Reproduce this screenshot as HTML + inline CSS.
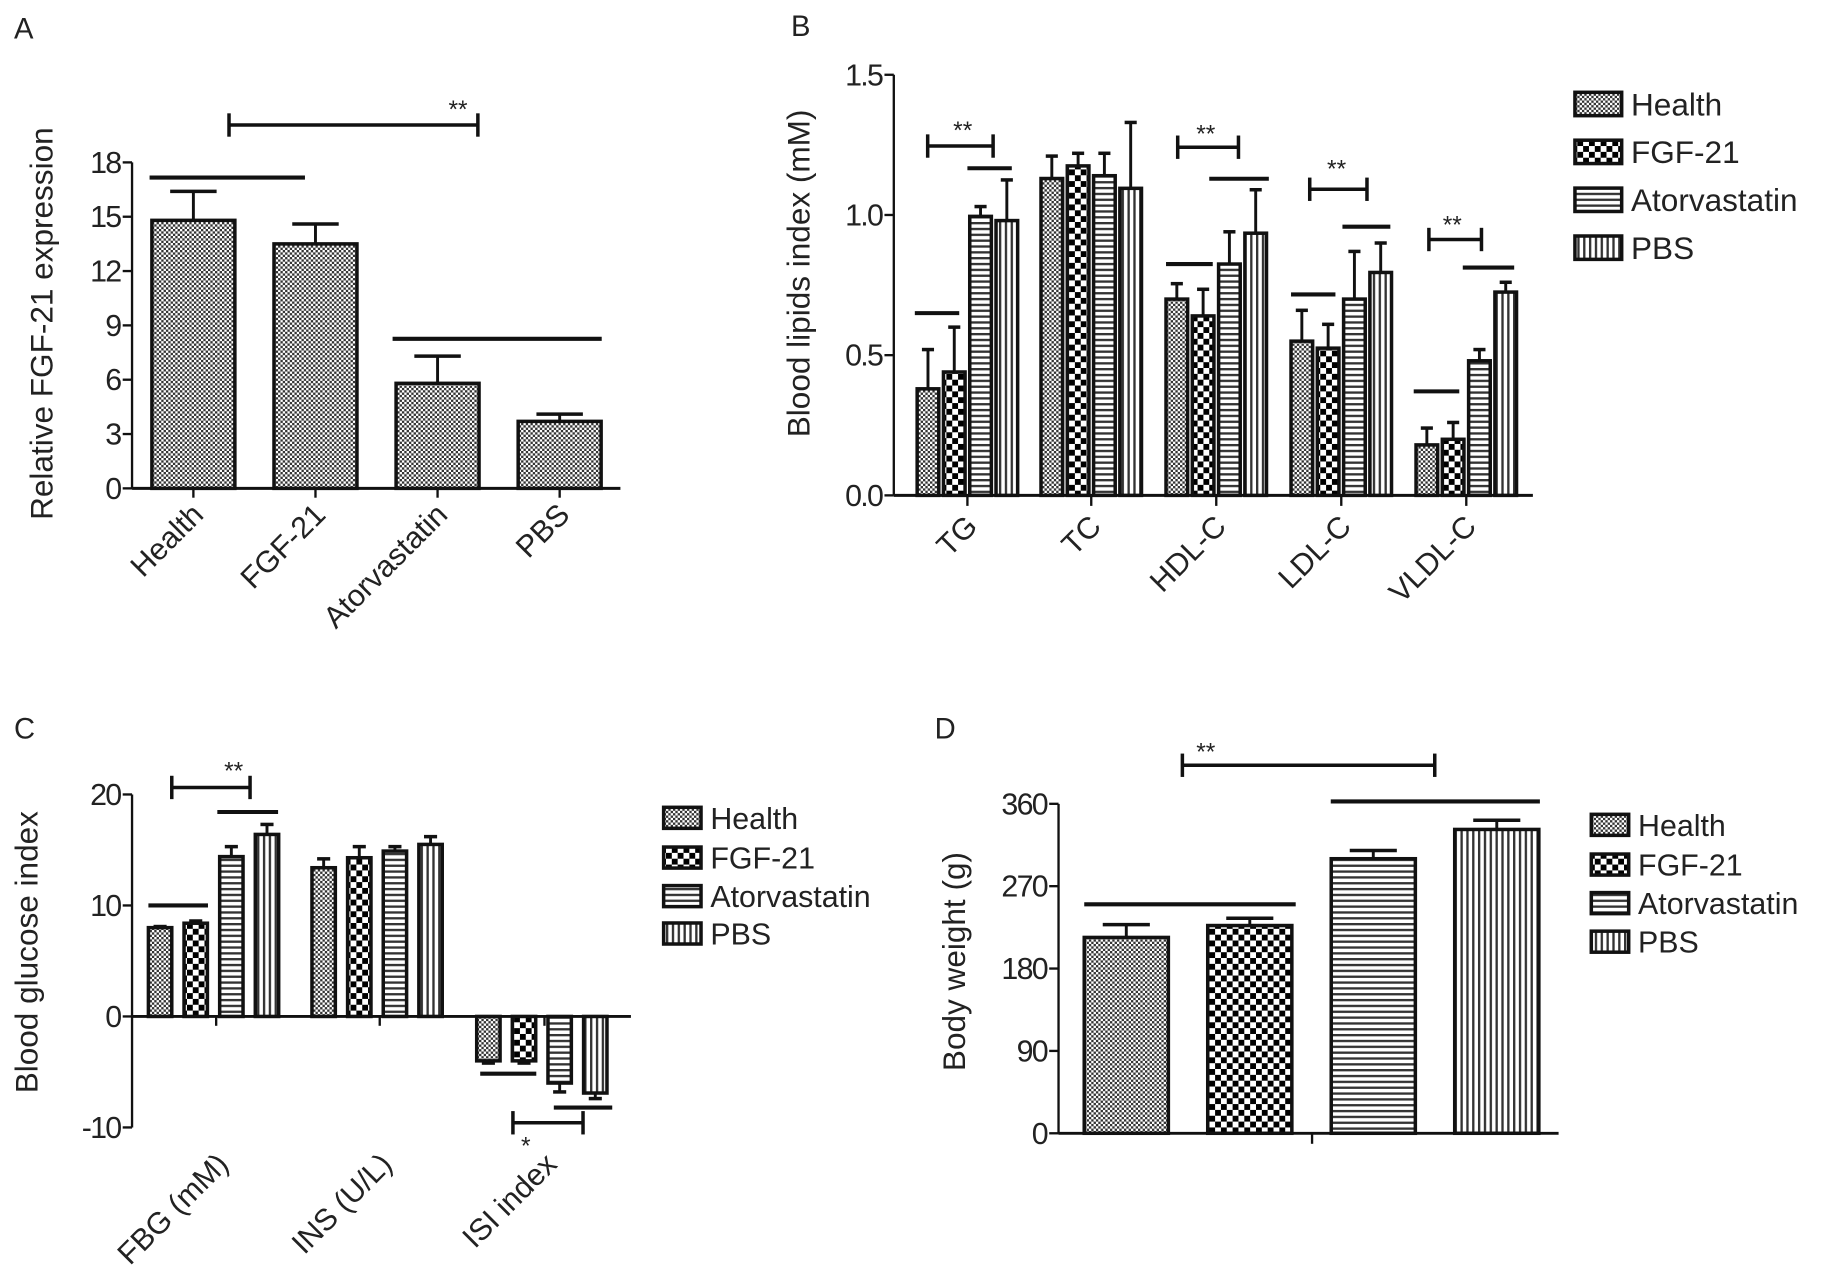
<!DOCTYPE html>
<html><head><meta charset="utf-8">
<style>
html,body{margin:0;padding:0;background:#fff;}
svg{display:block;font-family:"Liberation Sans",Arial,sans-serif;}
</style></head>
<body>
<svg id="fig" width="1832" height="1284" viewBox="0 0 1568 1099" xmlns="http://www.w3.org/2000/svg">
<defs>
<pattern id="pHealth" width="4" height="4" patternUnits="userSpaceOnUse"><rect width="4" height="4" fill="#fff"/><rect width="2" height="2" fill="#333"/><rect x="2" y="2" width="2" height="2" fill="#333"/></pattern>
<pattern id="pFGF" width="10" height="10" patternUnits="userSpaceOnUse"><rect width="10" height="10" fill="#fff"/><rect width="5" height="5" fill="#000"/><rect x="5" y="5" width="5" height="5" fill="#000"/></pattern>
<pattern id="pAtor" width="6" height="5" patternUnits="userSpaceOnUse"><rect width="6" height="5" fill="#fff"/><rect width="6" height="2" fill="#333"/></pattern>
<pattern id="pPBS" width="5" height="6" patternUnits="userSpaceOnUse"><rect width="5" height="6" fill="#fff"/><rect width="2" height="6" fill="#333"/></pattern>
</defs>
<g id="root"></g>
</svg>
<script>
// ---- Panel A data ----
const aCats = ["Health","FGF-21","Atorvastatin","PBS"];
const aVals = [14.8, 13.5, 5.8, 3.7];
const aErr = [16.4, 14.6, 7.3, 4.1];
const aTicks = [0,3,6,9,12,15,18];
// ---- Panel B data ----
const bCats = ["TG","TC","HDL-C","LDL-C","VLDL-C"];
const bHealth = [0.38, 1.13, 0.70, 0.55, 0.18];
const bHealthErr = [0.52, 1.21, 0.755, 0.66, 0.24];
const bFGF = [0.44, 1.175, 0.64, 0.525, 0.20];
const bFGFErr = [0.60, 1.22, 0.735, 0.61, 0.26];
const bAtor = [0.995, 1.14, 0.825, 0.70, 0.48];
const bAtorErr = [1.03, 1.22, 0.94, 0.87, 0.52];
const bPBS = [0.98, 1.095, 0.935, 0.795, 0.725];
const bPBSErr = [1.125, 1.33, 1.09, 0.90, 0.76];
const bTicks = ["0.0","0.5","1.0","1.5"];
// ---- Panel C data ----
const cCats = ["FBG (mM)","INS (U/L)","ISI index"];
const cHealth = [8.0, 13.4, -4.0];
const cHealthErr = [8.1, 14.2, -4.2];
const cFGF = [8.4, 14.3, -4.0];
const cFGFErr = [8.6, 15.3, -4.2];
const cAtor = [14.4, 14.9, -6.0];
const cAtorErr = [15.3, 15.3, -6.8];
const cPBS = [16.4, 15.5, -6.9];
const cPBSErr = [17.3, 16.2, -7.4];
const cTicks = [-10,0,10,20];
// ---- Panel D data ----
const dCats = ["Health","FGF-21","Atorvastatin","PBS"];
const dVals = [214, 227, 300, 332];
const dErr = [228, 235, 309, 342];
const dTicks = [0,90,180,270,360];

const legendNames = ["Health","FGF-21","Atorvastatin","PBS"];
const pats = ["url(#pHealth)","url(#pFGF)","url(#pAtor)","url(#pPBS)"];
const NS="http://www.w3.org/2000/svg";
const root=document.getElementById('root');
function mk(tag,attrs,parent,name,inter){
  const e=document.createElementNS(NS,tag);
  for(const k in attrs) e.setAttribute(k,attrs[k]);
  
  
  (parent||root).appendChild(e); return e;
}
function line(x1,y1,x2,y2,w,name,p){return mk('line',{x1,y1,x2,y2,stroke:'#111','stroke-width':w||2.5},p,name);}
function text(x,y,s,size,anchor,name,p,extra){
  const t=mk('text',Object.assign({x,y,'font-size':size,'text-anchor':anchor||'start',fill:'#222'},extra||{}),p,name);
  t.textContent=s; return t;
}
function bar(x,w,y0,y1,fill,errY,name,p){
  const top=Math.min(y0,y1), h=Math.abs(y1-y0);
  const g=mk('g',{},p,name);
  const cx=x+w/2;
  line(cx,y1,cx,errY,2.5,name+'-error-stem',g);
  line(cx-w*0.28,errY,cx+w*0.28,errY,3,name+'-error-cap',g);
  mk('rect',{x,y:top,width:w,height:h,fill,stroke:'#111','stroke-width':3},g,name+'-rect');
}
function sigLine(x1,x2,y,name){line(x1,y,x2,y,3.5,name);}
function bracket(x1,x2,y,name,lab,lx,ly,size){
  const g=mk('g',{},root,name);
  line(x1,y,x2,y,3,name+'-bar',g);
  line(x1,y-10,x1,y+10,3,name+'-left',g);
  line(x2,y-10,x2,y+10,3,name+'-right',g);
  text(lx,ly,lab,size||21,'middle',name+'-label',g);
}
function yAxis(x,yTop,yBot,ticks,scale,name,fs){
  const g=mk('g',{},root,name);
  line(x,yTop,x,yBot,2,name+'-line',g);
  ticks.forEach(t=>{const v=parseFloat(t);const y=scale(v);
    line(x-8,y,x,y,2,name+'-tick',g);
    text(x-10,y+9,String(t),fs||26,'end',name+'-tick-label',g,{'letter-spacing':'-1.5'});});
}
function rotLabel(x,y,s,name,fs){
  text(x,y,s,fs||26,'end',name,root,{transform:`rotate(-45 ${x} ${y})`});
}
function yTitle(x,y,s,name,fs){text(x,y,s,fs||26,'middle',name,root,{transform:`rotate(-90 ${x} ${y})`});}
function legend(x,ys,fs,name,sw,sh){
  const g=mk('g',{},root,name);
  legendNames.forEach((n,i)=>{
    const e=mk('g',{},g,'legend-entry-'+n.toLowerCase());
    mk('rect',{x,y:ys[i]-sh/2,width:sw,height:sh,fill:pats[i],stroke:'#111','stroke-width':3},e,'legend-swatch');
    text(x+sw+8,ys[i]+fs*0.36,n,fs,'start','legend-label',e);
  });
}

// ================= Panel A =================
text(12,33,"A",25,'start','panel-a-label');
{
  const y0=418, yTopV=139, x0=113;
  const ys=v=>y0-(v/18)*(y0-yTopV);
  const xs=i=>130+i*104.5, bw=71;
  yAxis(x0,yTopV,y0,aTicks,ys,'panel-a-y-axis');
  line(x0,y0,531,y0,2.5,'panel-a-x-axis');
  yTitle(45,277,"Relative FGF-21 expression",'panel-a-y-axis-title',27);
  aCats.forEach((c,i)=>{
    bar(xs(i),bw,y0,ys(aVals[i]),pats[0],ys(aErr[i]),'panel-a-bar-'+c.toLowerCase());
    const cx=xs(i)+bw/2;
    line(cx,y0,cx,y0+8,2,'panel-a-x-tick');
    rotLabel(cx+10,y0+24,c,'panel-a-x-label-'+c.toLowerCase());
  });
  sigLine(128,261,152,'panel-a-sig-line-1');
  sigLine(336,515,290,'panel-a-sig-line-2');
  bracket(196,409,107,'panel-a-sig-bracket','**',392,101);
}

// ================= Panel B =================
text(677,31,"B",25,'start','panel-b-label');
{
  const y0=424, yT=64, x0=765;
  const ys=v=>y0-(v/1.5)*(y0-yT);
  const centers=[828,934,1041,1148,1255];
  const bw=18.5, step=22.5;
  yAxis(x0,yT,y0,bTicks,ys,'panel-b-y-axis');
  line(x0,y0,1312,y0,2.5,'panel-b-x-axis');
  yTitle(693,234,"Blood lipids index (mM)",'panel-b-y-axis-title',27);
  const series=[[bHealth,bHealthErr],[bFGF,bFGFErr],[bAtor,bAtorErr],[bPBS,bPBSErr]];
  bCats.forEach((c,i)=>{
    series.forEach((s,j)=>{
      const x=centers[i]-2*step+j*step+2;
      bar(x,bw,y0,ys(s[0][i]),pats[j],ys(s[1][i]),'panel-b-bar-'+c.toLowerCase()+'-'+legendNames[j].toLowerCase());
    });
    line(centers[i],y0,centers[i],y0+9,2,'panel-b-x-tick');
    rotLabel(centers[i]+10,y0+28,c,'panel-b-x-label-'+c.toLowerCase());
  });
  sigLine(783,821,268,'panel-b-sig-tg-low'); bracket(794,850,125,'panel-b-sig-tg','**',824,119); sigLine(828,866,144,'panel-b-sig-tg-high');
  sigLine(998,1038,226,'panel-b-sig-hdl-low'); bracket(1008,1060,126,'panel-b-sig-hdl','**',1032,122); sigLine(1035,1086,153,'panel-b-sig-hdl-high');
  sigLine(1105,1143,252,'panel-b-sig-ldl-low'); bracket(1121,1170,162,'panel-b-sig-ldl','**',1144,152); sigLine(1149,1190,194,'panel-b-sig-ldl-high');
  sigLine(1210,1249,335,'panel-b-sig-vldl-low'); bracket(1223,1268,205,'panel-b-sig-vldl','**',1243,200); sigLine(1252,1296,229,'panel-b-sig-vldl-high');
  legend(1348,[89,130,171,212],27,'panel-b-legend',40,20);
}

// ================= Panel C =================
text(12,632,"C",25,'start','panel-c-label');
{
  const y0=870, x0=113;
  const ys=v=>y0-v*9.5;
  const centers=[185,325,466];
  const bw=20, step=30.5;
  yAxis(x0,ys(20),ys(-10),cTicks,ys,'panel-c-y-axis');
  line(x0,y0,540,y0,2.5,'panel-c-x-axis');
  yTitle(32,815,"Blood glucose index",'panel-c-y-axis-title',27);
  const series=[[cHealth,cHealthErr],[cFGF,cFGFErr],[cAtor,cAtorErr],[cPBS,cPBSErr]];
  cCats.forEach((c,i)=>{
    series.forEach((s,j)=>{
      const x=centers[i]-58+j*step;
      bar(x,bw,y0,ys(s[0][i]),pats[j],ys(s[1][i]),'panel-c-bar-'+i+'-'+legendNames[j].toLowerCase());
    });
    line(centers[i],y0,centers[i],y0+8,2,'panel-c-x-tick');
    rotLabel(centers[i]+12,y0+128,c,'panel-c-x-label-'+i);
  });
  sigLine(127,178,775,'panel-c-sig-fbg-low'); bracket(147,214,674,'panel-c-sig-fbg','**',200,667); sigLine(186,238,695,'panel-c-sig-fbg-high');
  sigLine(411,459,919,'panel-c-sig-isi-low'); sigLine(474,524,948,'panel-c-sig-isi-high');
  bracket(439,499,961,'panel-c-sig-isi','*',450,988);
  legend(568,[700,734,767,799],26,'panel-c-legend',32,18);
}

// ================= Panel D =================
text(800,632,"D",25,'start','panel-d-label');
{
  const y0=970, x0=906;
  const ys=v=>y0-(v/360)*(y0-688);
  const xs=i=>928+i*105.7, bw=72;
  yAxis(x0,688,y0,dTicks,ys,'panel-d-y-axis');
  line(x0,y0,1334,y0,2.5,'panel-d-x-axis');
  line(1123,y0,1123,y0+9,2,'panel-d-x-tick');
  yTitle(826,823,"Body weight (g)",'panel-d-y-axis-title',27);
  dCats.forEach((c,i)=>{
    bar(xs(i),bw,y0,ys(dVals[i]),pats[i],ys(dErr[i]),'panel-d-bar-'+c.toLowerCase());
  });
  sigLine(928,1109,774,'panel-d-sig-line-1');
  sigLine(1139,1318,686,'panel-d-sig-line-2');
  bracket(1012,1228,655,'panel-d-sig-bracket','**',1032,651);
  legend(1362,[706,740,773,806],26,'panel-d-legend',32,18);
}
</script>
</body></html>
